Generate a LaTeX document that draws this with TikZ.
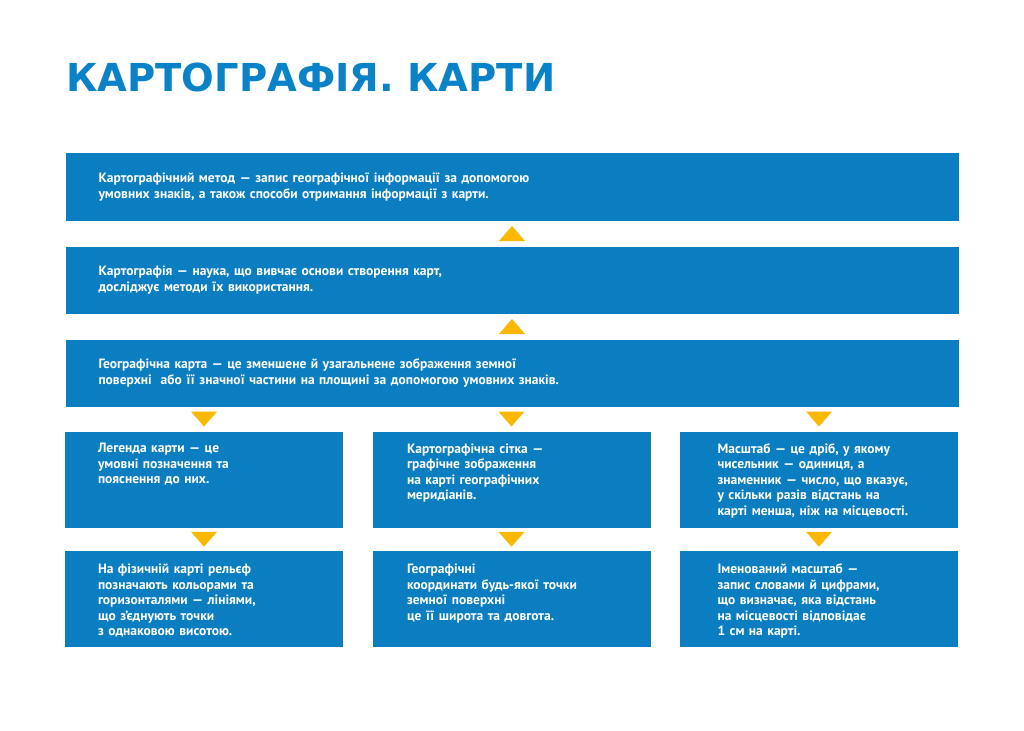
\documentclass[tikz,border=0pt]{standalone}
\usepackage{fontspec}
\setmainfont{PT Sans}
\newfontfamily\headfont{DejaVu Sans}
\usepackage{tikz}
\usetikzlibrary{positioning,calc}

\definecolor{boxblue}{HTML}{0B7EC2}
\definecolor{headblue}{HTML}{0A82C8}
\definecolor{markyellow}{HTML}{FBB800}

\tikzset{
	bluebox/.style={fill=boxblue, draw=none, inner sep=0pt},
	widebox/.style={bluebox, minimum width=893pt, minimum height=67pt,
		text width=827pt, inner xsep=33pt, align=left, text=white,
		font=\bfseries\fontsize{13.5}{16}\selectfont},
	colbox/.style={bluebox, minimum width=278pt, minimum height=96pt},
	coltext/.style={anchor=north west, inner sep=0pt, text width=250pt,
		align=left, text=white, font=\bfseries\fontsize{13.5}{15.5}\selectfont},
	upmark/.pic={\fill[markyellow] (-13,7.5) -- (13,7.5) -- (0,-7.5) -- cycle;},
	downmark/.pic={\fill[markyellow] (-13,-7.5) -- (13,-7.5) -- (0,7.5) -- cycle;},
}

\begin{document}
\begin{tikzpicture}[x=1pt, y=-1pt]
	\useasboundingbox[fill=white] (0, 0) rectangle (1024, 730);
	\node[anchor=base west, inner sep=0pt, text=headblue,
		font=\headfont\bfseries\fontsize{38.5}{38.5}\selectfont] at (66, 92) (title) {КАРТОГРАФІЯ. КАРТИ};

	\node[widebox] at (512, 187) (method) {Картографічний метод — запис географічної інформації за допомогою\\ умовних знаків, а також способи отримання інформації з карти.};
	\node[widebox] at (512, 280) (carto) {Картографія — наука, що вивчає основи створення карт,\\ досліджує методи їх використання.};
	\node[widebox] at (512, 373) (map) {Географічна карта — це зменшене й узагальнене зображення земної\\ поверхні\ \ або її значної частини на площині за допомогою умовних знаків.};

	\node[colbox] at (204, 479.5) (legend) {};
	\node[colbox] at (511.5, 479.5) (grid) {};
	\node[colbox] at (819, 479.5) (scale) {};
	\node[colbox] at (204, 599) (relief) {};
	\node[colbox] at (511.5, 599) (coords) {};
	\node[colbox] at (819, 599) (named) {};

	\node[coltext] at ([xshift=33pt, yshift=-12pt]legend.north west) (legend-t) {Легенда карти — це\\ умовні позначення та\\ пояснення до них.};
	\node[coltext] at ([xshift=34.5pt, yshift=-12pt]grid.north west) (grid-t) {Картографічна сітка —\\ графічне зображення\\ на карті географічних\\ меридіанів.};
	\node[coltext] at ([xshift=37.5pt, yshift=-12pt]scale.north west) (scale-t) {Масштаб — це дріб, у якому\\ чисельник — одиниця, а\\ знаменник — число, що вказує,\\ у скільки разів відстань на\\ карті менша, ніж на місцевості.};
	\node[coltext] at ([xshift=33pt, yshift=-13pt]relief.north west) (relief-t) {На фізичній карті рельєф\\ позначають кольорами та\\ горизонталями — лініями,\\ що з’єднують точки\\ з однаковою висотою.};
	\node[coltext] at ([xshift=34.5pt, yshift=-13pt]coords.north west) (coords-t) {Географічні\\ координати будь-якої точки\\ земної поверхні\\ це її широта та довгота.};
	\node[coltext] at ([xshift=37.5pt, yshift=-13pt]named.north west) (named-t) {Іменований масштаб —\\ запис словами й цифрами,\\ що визначає, яка відстань\\ на місцевості відповідає\\ 1 см на карті.};

	\pic at ($(method.south)!0.5!(carto.north)$) {upmark};
	\pic at ($(carto.south)!0.5!(map.north)$) {upmark};
	\foreach \a/\b in {legend/relief, grid/coords, scale/named}{
		\pic at ($(map.south -| \a.north)!0.5!(\a.north)$) {downmark};
		\pic at ($(\a.south)!0.5!(\b.north)$) {downmark};
	}
\end{tikzpicture}
\end{document}
